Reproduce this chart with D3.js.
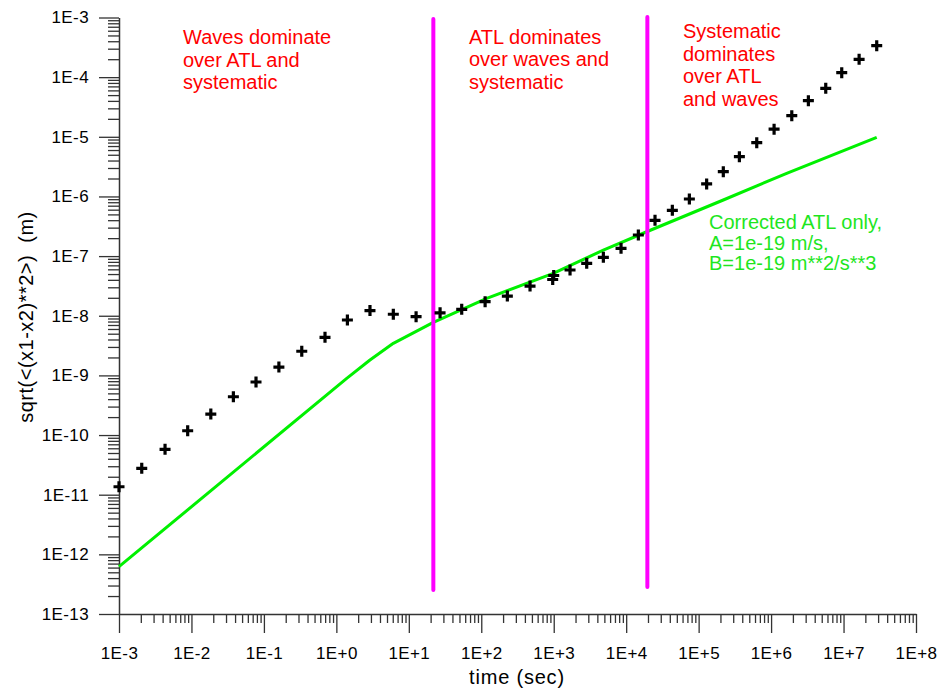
<!DOCTYPE html>
<html><head><meta charset="utf-8">
<script src="https://cdn.jsdelivr.net/npm/d3@7"></script>
<style>
html,body{margin:0;padding:0;background:#fff;}
svg{display:block;font-family:"Liberation Sans",Arial,Helvetica,sans-serif;}
</style></head>
<body>
<svg id="c" width="938" height="690"></svg>
<script>
// ---- data ----
const measTime = [1e-3, 2.06e-3, 4.32e-3, 8.87e-3, 1.85e-2, 3.79e-2, 7.78e-2, 0.161, 0.333, 0.697, 1.42, 2.91, 6.11, 12.6, 27.0, 53.7, 113, 229, 471, 968, 1000, 1679, 2852, 4842, 8490, 14720, 25000, 43350, 74470, 1.29e5, 2.19e5, 3.65e5, 6.34e5, 1.10e6, 1.93e6, 3.27e6, 5.68e6, 9.44e6, 1.64e7, 2.87e7];
const measValue = [1.36e-11, 2.77e-11, 5.77e-11, 1.18e-10, 2.25e-10, 4.39e-10, 7.75e-10, 1.38e-9, 2.54e-9, 4.35e-9, 8.49e-9, 1.22e-8, 1.06e-8, 9.64e-9, 1.12e-8, 1.28e-8, 1.72e-8, 2.14e-8, 3.15e-8, 4.05e-8, 4.73e-8, 5.85e-8, 7.57e-8, 9.55e-8, 1.35e-7, 2.26e-7, 3.98e-7, 5.86e-7, 9.06e-7, 1.62e-6, 2.60e-6, 4.64e-6, 7.96e-6, 1.34e-5, 2.26e-5, 4.03e-5, 6.50e-5, 1.19e-4, 1.99e-4, 3.37e-4];
const atlTime = [1e-3, 1.39, 2.91, 6.11, 21.8, 119, 986, 4842, 1.92e4, 2.19e5, 1.64e6, 2.87e7];
const atlValue = [6.21e-13, 8.93e-10, 1.81e-9, 3.45e-9, 7.76e-9, 1.96e-8, 5.15e-8, 1.26e-7, 2.56e-7, 8.72e-7, 2.44e-6, 9.81e-6];
const dividerTime = [21.8, 1.96e4];
const dividerTop = [9.4e-4, 1.02e-3];
const dividerBottom = [2.52e-13, 2.84e-13];
const xTickExp = [-3,-2,-1,0,1,2,3,4,5,6,7,8];
const yTickExp = [-13,-12,-11,-10,-9,-8,-7,-6,-5,-4,-3];
const xTitle = "time (sec)";
const yTitle = "sqrt(<(x1-x2)**2>)\u00a0\u00a0(m)";
const regionNotes = [
  {lines: ["Waves dominate","over ATL and","systematic"]},
  {lines: ["ATL dominates","over waves and","systematic"]},
  {lines: ["Systematic","dominates","over ATL","and waves"]}
];
const atlLabel = ["Corrected ATL only,","A=1e-19 m/s,","B=1e-19 m**2/s**3"];

// ---- scales ----
const svg = d3.select("#c");
const x = d3.scaleLog().domain([1e-3, 1e8]).range([119, 916]);
const y = d3.scaleLog().domain([1e-13, 1e-3]).range([614, 17.5]);
const axisColor = "#333";
const fmt = e => "1E" + (e >= 0 ? "+" : "-") + Math.abs(e);

const minorVals = (exps) => {
  const out = [];
  for (let i = 0; i < exps.length - 1; i++) for (let k = 2; k <= 9; k++) out.push(k * Math.pow(10, exps[i]));
  return out;
};

// minor ticks
svg.append("g").attr("transform", "translate(0,614)")
  .call(d3.axisBottom(x).tickValues(minorVals(xTickExp)).tickSize(9).tickSizeOuter(0).tickFormat(""))
  .call(g => g.select(".domain").remove());
svg.append("g").attr("transform", "translate(119,0)")
  .call(d3.axisLeft(y).tickValues(minorVals(yTickExp)).tickSize(11).tickSizeOuter(0).tickFormat(""))
  .call(g => g.select(".domain").remove());

// major
svg.append("g").attr("transform", "translate(0,614)")
  .call(d3.axisBottom(x).tickValues(xTickExp.map(e => Math.pow(10, e))).tickSize(19).tickSizeOuter(0).tickPadding(14)
    .tickFormat(d => fmt(Math.round(Math.log10(d)))));
svg.append("g").attr("transform", "translate(119,0)")
  .call(d3.axisLeft(y).tickValues(yTickExp.map(e => Math.pow(10, e))).tickSize(20).tickSizeOuter(0).tickPadding(10)
    .tickFormat(d => fmt(Math.round(Math.log10(d)))));
svg.selectAll(".tick line").attr("stroke", axisColor).attr("stroke-width", 1.3);
svg.selectAll(".domain").attr("stroke", axisColor).attr("stroke-width", 1.5);
svg.selectAll(".tick text").attr("fill", "#000").attr("font-size", 17).attr("letter-spacing", "0.4px")
  .attr("font-family", "'Liberation Sans', Arial, sans-serif");

// axis titles
svg.append("text").attr("x", 517).attr("y", 684).attr("text-anchor", "middle")
  .attr("font-size", 20).attr("letter-spacing", "0.8px").text(xTitle);
svg.append("text").attr("transform", "translate(33,317) rotate(-90)").attr("text-anchor", "middle")
  .attr("font-size", 20).attr("letter-spacing", "0.5px").text(yTitle);

// green ATL line
svg.append("path")
  .datum(atlTime.map((t, i) => [t, atlValue[i]]))
  .attr("fill", "none").attr("stroke", "#00f000").attr("stroke-width", 3).attr("stroke-linejoin", "round")
  .attr("d", d3.line().x(d => x(d[0])).y(d => y(d[1])));

// magenta dividers
svg.selectAll("line.div").data(dividerTime).join("line").attr("class", "div")
  .attr("x1", d => x(d)).attr("x2", d => x(d))
  .attr("y1", (d, i) => y(dividerTop[i])).attr("y2", (d, i) => y(dividerBottom[i]))
  .attr("stroke", "#ff00ff").attr("stroke-width", 4).attr("stroke-linecap", "round");

// plus markers
svg.selectAll("path.pt").data(measTime).join("path").attr("class", "pt")
  .attr("transform", (d, i) => `translate(${x(d)},${y(measValue[i])})`)
  .attr("d", "M-5.5,0H5.5M0,-5.5V5.5")
  .attr("stroke", "#000").attr("stroke-width", 3.2).attr("fill", "none");

// red notes
const noteX = [183, 469, 683];
const noteY0 = [44, 43.5, 38];
regionNotes.forEach((n, i) => {
  const t = svg.append("text").attr("fill", "#ff0000").attr("font-size", 20);
  n.lines.forEach((s, j) => t.append("tspan").attr("x", noteX[i]).attr("y", noteY0[i] + j * 22.5).text(s));
});

// green label
const gt = svg.append("text").attr("fill", "#1ee61e").attr("font-size", 20);
atlLabel.forEach((s, j) => gt.append("tspan").attr("x", 709).attr("y", 229 + j * 20.7).text(s));
</script>
</body></html>
